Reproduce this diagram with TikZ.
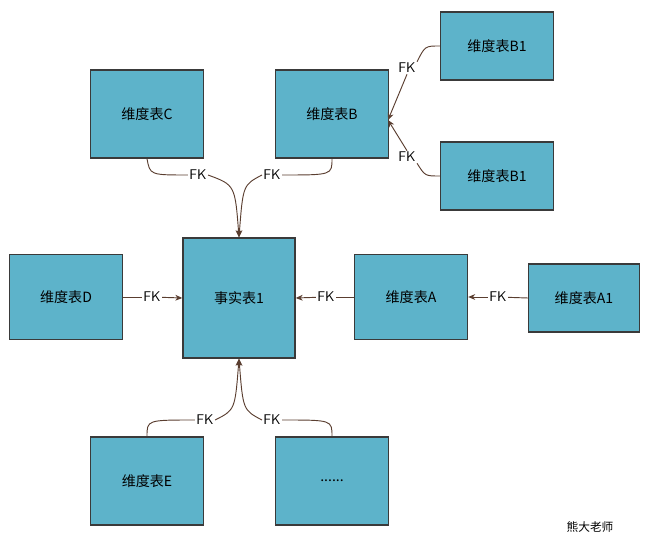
\documentclass[tikz,border=0pt]{standalone}
\usepackage{fontspec}
\newfontfamily\cjk{Noto Sans CJK SC}
\usetikzlibrary{arrows.meta}
\definecolor{boxfill}{HTML}{5DB3CA}
\definecolor{boxline}{HTML}{3A3A3A}
\definecolor{fkline}{HTML}{5A3E30}
\begin{document}
\begin{tikzpicture}[x=0.03cm,y=-0.03cm,font=\cjk\large,
                    tbl/.style={draw=boxline,line width=1.2pt,fill=boxfill,
                                minimum width=3.39cm,minimum height=2.64cm,inner sep=0pt},
                    small/.style={tbl,minimum height=2.04cm},
                    fk/.style={draw=fkline,line width=0.8pt},
                    fkarrow/.style={fk,-{Stealth[length=6pt,width=5pt]}},
                    fklabel/.style={fill=white,inner sep=1pt,font=\sffamily\large}]
\useasboundingbox (0,0) rectangle (651,545);
% tables
\node[tbl,minimum height=3.6cm,minimum width=3.36cm] (fact) at (239,298) {事实表1};
\node[small] (b1a) at (497,46)  {维度表B1};
\node[tbl]   (c)   at (147,114) {维度表C};
\node[tbl]   (b)   at (332,114) {维度表B};
\node[small] (b1b) at (497,176) {维度表B1};
\node[tbl,minimum height=2.55cm] (d) at (66,297)  {维度表D};
\node[tbl,minimum height=2.55cm] (a) at (411,297) {维度表A};
\node[small,minimum width=3.33cm] (a1) at (584,298) {维度表A1};
\node[tbl]   (e)   at (147,481) {维度表E};
\node[tbl]   (etc) at (332,481) {......};
% FK labels
\node[fklabel] (fkd)  at (152,297) {FK};
\node[fklabel] (fka)  at (326,297) {FK};
\node[fklabel] (fka1) at (498,297) {FK};
\node[fklabel] (fkc)  at (198,175) {FK};
\node[fklabel] (fkb)  at (272,175) {FK};
\node[fklabel] (fkb1) at (407,68)  {FK};
\node[fklabel] (fkb2) at (407,157) {FK};
\node[fklabel] (fke)  at (205,420) {FK};
\node[fklabel] (fkx)  at (272,420) {FK};
% connectors
\draw[fk] (d.east) -- (fkd);
\draw[fkarrow] (fkd) -- (fact.west);
\draw[fk] (a.west) -- (fka);
\draw[fkarrow] (fka) -- (fact.east);
\draw[fk] (a1.west) -- (fka1);
\draw[fkarrow] (fka1) -- (a.east);
\draw[fk] (c.south) .. controls (150,175) .. (fkc.west);
\draw[fkarrow] (fkc.east) .. controls (235,185) .. (fact.north);
\draw[fk] (b.south) .. controls (332,175) .. (fkb.east);
\draw[fkarrow] (fkb.west) .. controls (243,185) .. (fact.north);
\draw[fk] (b1a.west) .. controls (425,46) .. (fkb1.north east);
\draw[fkarrow] (fkb1.south) -- (388,120);
\draw[fk] (b1b.west) .. controls (425,176) .. (fkb2.south east);
\draw[fkarrow] (fkb2.north) -- (388,120);
\draw[fk] (e.north) .. controls (147,420) .. (fke.west);
\draw[fkarrow] (fke.east) .. controls (235,410) .. (fact.south);
\draw[fk] (etc.north) .. controls (332,420) .. (fkx.east);
\draw[fkarrow] (fkx.west) .. controls (243,410) .. (fact.south);
\node[font=\cjk\normalsize] (mark) at (590,527) {熊大老师};
\end{tikzpicture}
\end{document}
